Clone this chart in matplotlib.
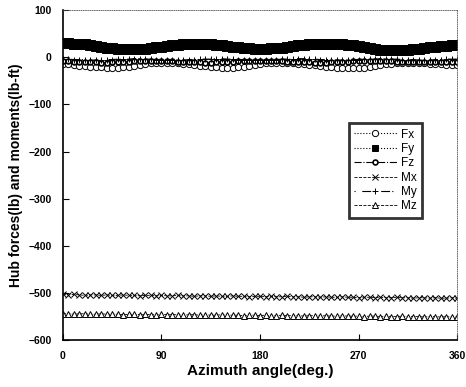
import numpy as np
import matplotlib.pyplot as plt

plt.rcParams['font.family'] = ['Liberation Sans', 'DejaVu Sans']

# azimuth stations, every 5 degrees
azimuth = list(range(0, 361, 5))

fx = [-14, -15, -17, -18, -19, -20, -21, -21, -22, -22, -22, -21, -20, -18, -16, -14,
      -13, -12, -12, -12, -13, -13, -14, -15, -16, -18, -19, -20, -21, -22, -22, -22,
      -21, -20, -18, -16, -15, -13, -12, -12, -12, -13, -13, -14, -15, -16, -17, -18,
      -20, -21, -22, -23, -23, -23, -23, -22, -21, -19, -17, -15, -14, -13, -12, -12,
      -12, -13, -13, -14, -15, -15, -16, -16, -17]
fy = [30, 30, 29, 28, 27, 25, 24, 22, 20, 19, 18, 17, 17, 17, 18, 18, 19, 21, 22, 23,
      25, 26, 27, 28, 28, 29, 28, 28, 26, 25, 24, 22, 21, 20, 19, 18, 18, 18, 19, 19,
      20, 22, 23, 25, 26, 27, 28, 29, 29, 29, 28, 27, 26, 25, 23, 21, 19, 18, 16, 15,
      15, 15, 15, 16, 17, 18, 19, 21, 22, 23, 24, 25, 26]
fz = [-9, -9, -10, -10, -11, -11, -11, -12, -12, -11, -11, -10, -10, -9, -8, -8, -8,
      -8, -9, -9, -9, -10, -10, -11, -11, -11, -12, -12, -11, -11, -10, -10, -9, -9,
      -8, -8, -8, -8, -9, -9, -9, -10, -10, -11, -11, -11, -12, -12, -12, -11, -11,
      -10, -10, -9, -9, -8, -8, -8, -9, -9, -9, -10, -10, -10, -11, -11, -11, -11,
      -10, -10, -10, -11, -11]
mx = [-503, -504, -503, -504, -505, -504, -504, -505, -504, -505, -505, -504, -505,
      -505, -506, -505, -505, -506, -505, -506, -506, -505, -506, -506, -507, -506,
      -506, -507, -506, -507, -507, -506, -507, -507, -508, -507, -507, -508, -507,
      -508, -508, -507, -508, -508, -509, -508, -508, -509, -508, -509, -509, -508,
      -509, -509, -510, -509, -509, -510, -509, -510, -510, -509, -510, -510, -511,
      -510, -510, -511, -510, -511, -511, -510, -511]
my = [-4, -4, -5, -5, -5, -6, -6, -6, -5, -5, -4, -4, -4, -3, -3, -4, -4, -5, -5, -5,
      -6, -6, -6, -5, -5, -4, -4, -4, -3, -3, -4, -4, -5, -5, -5, -6, -6, -6, -5, -5,
      -4, -4, -4, -3, -3, -4, -4, -5, -5, -5, -6, -6, -6, -5, -5, -4, -4, -4, -3, -3,
      -4, -4, -5, -5, -5, -6, -6, -6, -5, -5, -4, -4, -4]
mz = [-544, -544, -545, -544, -544, -545, -545, -544, -545, -545, -545, -546, -545,
      -545, -546, -545, -546, -546, -545, -546, -546, -546, -547, -546, -546, -547,
      -546, -547, -547, -546, -547, -547, -547, -548, -547, -547, -548, -547, -548,
      -548, -547, -548, -548, -548, -549, -548, -548, -549, -548, -549, -549, -548,
      -549, -549, -549, -550, -549, -549, -550, -549, -550, -550, -549, -550, -550,
      -550, -551, -550, -550, -551, -550, -551, -551]

series = [
    ('Fx', fx, dict(ls=':', marker='o', mfc='white', ms=4.5, lw=0.8)),
    ('Fy', fy, dict(ls=':', marker='s', mfc='black', ms=7.5, lw=0.8)),
    ('Fz', fz, dict(ls='-.', marker='o', mfc='white', ms=3.5, lw=0.8, mew=1.2)),
    ('Mx', mx, dict(ls='--', marker='x', ms=4, lw=0.6)),
    ('My', my, dict(ls=(0, (1, 6, 8, 2)), marker='+', ms=5, lw=0.8)),
    ('Mz', mz, dict(ls='--', marker='^', mfc='white', ms=4, lw=0.6)),
]

fig = plt.figure(figsize=(4.66, 3.87), dpi=100)
ax = fig.add_axes([0.135, 0.121, 0.846, 0.853])

for name, vals, style in series:
    ax.plot(azimuth, vals, color='black', mec='black', mew=style.pop('mew', 0.7),
            label=name, **style)

ax.set_xlim(0, 360)
ax.set_ylim(-600, 100)
ax.set_xticks(np.arange(0, 361, 90))
ax.set_yticks(np.arange(-600, 101, 100))
ax.tick_params(direction='in', length=4, width=0.8, labelsize=7.5, pad=8)
for lab in ax.get_xticklabels() + ax.get_yticklabels():
    lab.set_fontweight('bold')

for side in ('left', 'bottom'):
    ax.spines[side].set_linewidth(1.2)
for side in ('top', 'right'):
    ax.spines[side].set_linewidth(0.6)
    ax.spines[side].set_linestyle(':')
    ax.spines[side].set_color('#555555')

ax.set_xlabel('Azimuth angle(deg.)', fontsize=11, fontweight='bold', labelpad=2)
ax.set_ylabel('Hub forces(lb) and moments(lb-ft)', fontsize=10, fontweight='bold', labelpad=4)

leg = ax.legend(loc='upper left', bbox_to_anchor=(0.71, 0.675), fontsize=8.5,
                frameon=True, fancybox=False, handlelength=3.6, handletextpad=0.4,
                borderpad=0.45, labelspacing=0.2, edgecolor='black')
leg.get_frame().set_linewidth(2)
for h in leg.legend_handles:
    h.set_markersize(min(h.get_markersize(), 5))

fig.savefig('out.png', dpi=100)
